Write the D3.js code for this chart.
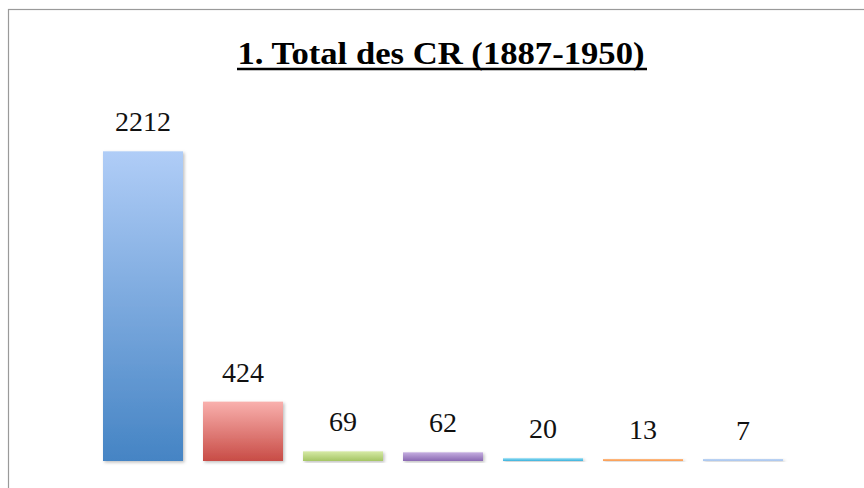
<!DOCTYPE html>
<meta charset="utf-8">

<!-- Load d3.js -->
<script src="https://d3js.org/d3.v7.min.js"></script>

<style>
  body { margin: 0; background: #fff; }
</style>

<!-- Create a div where the graph will take place -->
<div id="my_dataviz"></div>

<script>

// data
var categories = ["c1", "c2", "c3", "c4", "c5", "c6", "c7"];
var values = [2212, 424, 69, 62, 20, 13, 7];
var title = "1. Total des CR (1887-1950)";

// gradient colours per bar (top, bottom)
var gradTop = ["#b0cdf7", "#f9b0ad", "#d6eaa6", "#c5aee0", "#8fdcf4", "#ffbc84", "#bcd4f4"];
var gradBottom = ["#4584c4", "#c84c46", "#a5c564", "#8a69b2", "#3cb2dc", "#f89a50", "#aac6ee"];

var width = 864, height = 488;

var svg = d3.select("#my_dataviz")
  .append("svg")
    .attr("width", width)
    .attr("height", height);

// chart frame
svg.append("rect")
  .attr("x", 8.5)
  .attr("y", 9.5)
  .attr("width", 900)
  .attr("height", 600)
  .attr("fill", "none")
  .attr("stroke", "#9a9a9a")
  .attr("stroke-width", 1.2);

var defs = svg.append("defs");

values.forEach(function(v, i) {
  var g = defs.append("linearGradient")
    .attr("id", "grad" + i)
    .attr("x1", 0).attr("y1", 0)
    .attr("x2", 0).attr("y2", 1);
  g.append("stop").attr("offset", "0%").attr("stop-color", gradTop[i]);
  g.append("stop").attr("offset", "100%").attr("stop-color", gradBottom[i]);
});

var shadow = defs.append("filter")
  .attr("id", "shadow")
  .attr("x", "-10%").attr("y", "-10%")
  .attr("width", "130%").attr("height", "130%");
shadow.append("feDropShadow")
  .attr("dx", 1.5).attr("dy", 1.5)
  .attr("stdDeviation", 1.8)
  .attr("flood-color", "#000")
  .attr("flood-opacity", 0.25);

// X scale
var x = d3.scaleBand()
  .range([93, 793])
  .domain(categories)
  .paddingInner(0.2)
  .paddingOuter(0.1);

// Y scale
var y = d3.scaleLinear()
  .domain([0, 2500])
  .range([461, 111]);

// bars (at least 2px tall so tiny values stay visible)
svg.selectAll(".bar")
  .data(values)
  .enter()
  .append("rect")
    .attr("class", "bar")
    .attr("x", function(d, i) { return x(categories[i]); })
    .attr("y", function(d) { return Math.min(y(d), y(0) - 2); })
    .attr("width", x.bandwidth())
    .attr("height", function(d) { return Math.max(y(0) - y(d), 2); })
    .attr("fill", function(d, i) { return "url(#grad" + i + ")"; })
    .attr("filter", "url(#shadow)");

// value labels
svg.selectAll(".label")
  .data(values)
  .enter()
  .append("text")
    .attr("class", "label")
    .attr("x", function(d, i) { return x(categories[i]) + x.bandwidth() / 2; })
    .attr("y", function(d) { return y(d) - 20; })
    .attr("text-anchor", "middle")
    .attr("font-family", "'Liberation Serif', 'DejaVu Serif', serif")
    .attr("font-size", "28px")
    .attr("fill", "#111")
    .text(function(d) { return d; });

// title
svg.append("text")
  .attr("x", 441)
  .attr("y", 64)
  .attr("text-anchor", "middle")
  .attr("font-family", "'Liberation Serif', 'DejaVu Serif', serif")
  .attr("font-weight", "bold")
  .attr("font-size", "32px")
  .attr("fill", "#000")
  .attr("textLength", 407)
  .attr("lengthAdjust", "spacingAndGlyphs")
  .text(title);

// underline
svg.append("line")
  .attr("x1", 237)
  .attr("x2", 647)
  .attr("y1", 69)
  .attr("y2", 69)
  .attr("stroke", "#000")
  .attr("stroke-width", 2.5);

</script>
